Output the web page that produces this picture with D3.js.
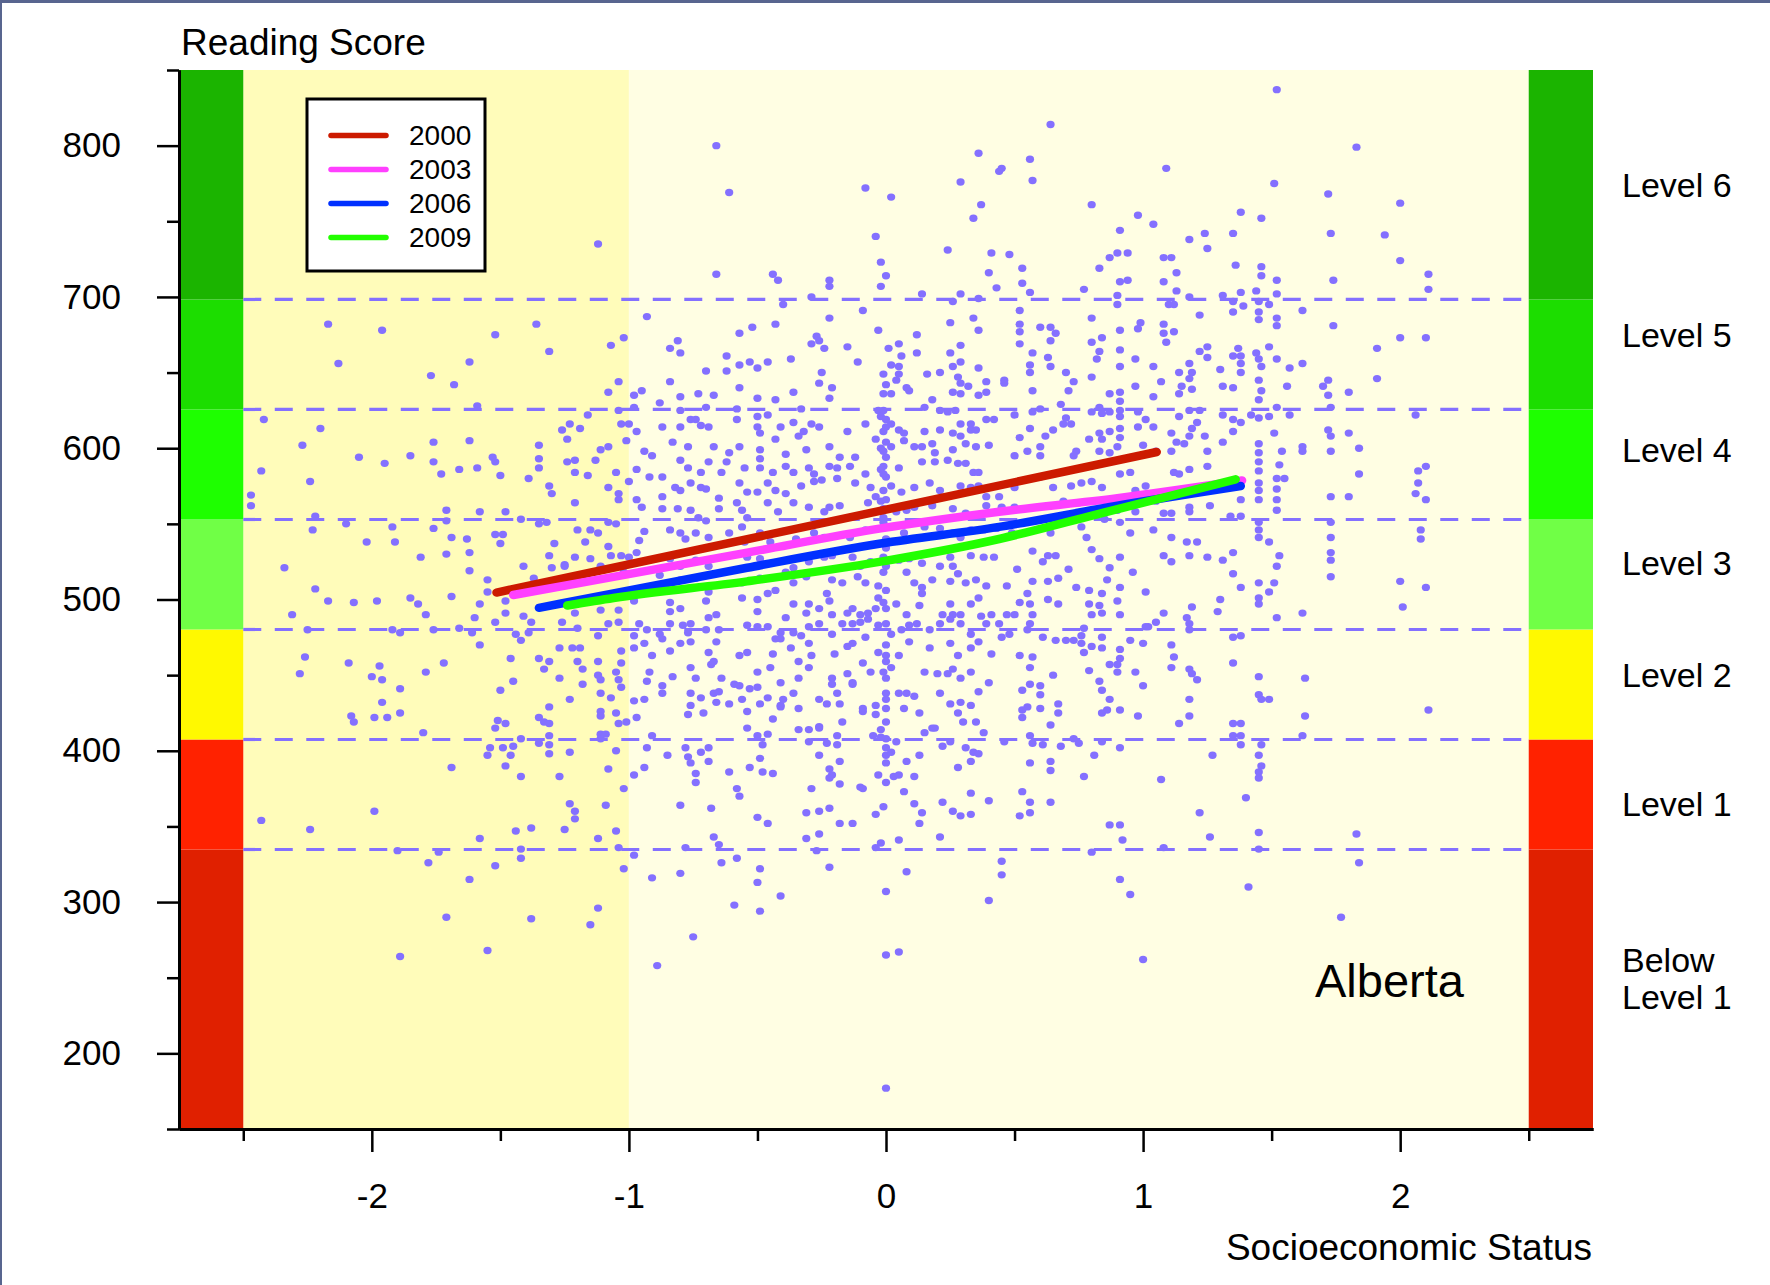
<!DOCTYPE html>
<html>
<head>
<meta charset="utf-8">
<script src="https://cdn.jsdelivr.net/npm/d3@7"></script>
<style>
  html, body { margin: 0; padding: 0; background: #fff; }
  svg { display: block; font-family: "Liberation Sans", Arial, Helvetica, sans-serif; }
</style>
</head>
<body>
<svg id="chart" width="1770" height="1285"></svg>
<script>
// PISA reading proficiency cut scores and band labels
const levelCuts = [150, 334.75, 407.47, 480.18, 552.89, 625.61, 698.32, 850];
const levelNames = [["Below", "Level 1"], ["Level 1"], ["Level 2"], ["Level 3"], ["Level 4"], ["Level 5"], ["Level 6"]];
const levelLabelScores = [[262, 237], [365], [450], [524], [599], [675], [774]];

const yMajorTicks = [200, 300, 400, 500, 600, 700, 800];
const yMinorTicks = [150, 250, 350, 450, 550, 650, 750, 850];
const xMajorTicks = [-2, -1, 0, 1, 2];
const xMinorTicks = [-2.5, -1.5, -0.5, 0.5, 1.5, 2.5];

// regression lines, [SES, score]
const trendYears = ["2000", "2003", "2006", "2009"];
const trend2000 = [[-1.515, 504.6], [1.053, 597.5]];
const trend2003 = [[-1.45, 503], [-1.06, 515], [-0.54, 531], [-0.02, 547], [0.44, 558], [0.90, 567], [1.385, 578.7]];
const trend2006 = [[-1.35, 494.5], [-1.06, 504], [-0.54, 521], [-0.02, 537], [0.44, 548], [0.90, 562], [1.38, 575]];
const trend2009 = [[-1.24, 496], [-1.06, 501], [-0.54, 512], [-0.02, 525], [0.44, 540], [0.79, 555], [1.36, 579.4]];

// students, [SES, reading score]
const studentsLowSes = [
[-1.12,735],[-2.17,682],[-1.96,678],[-2.13,656],[-1.52,675],[-1.36,682],[-1.31,664],[-1.77,648],[-1.62,657],[-1.68,642],[-1.07,668],[-1.02,673],[-0.93,687],[-1.08,637],[-1.04,644],[-0.98,635],[-0.95,638],[-1.04,625],[-0.98,627],[-1.59,628],[-2.42,619],[-2.20,613],[-2.27,602],[-2.43,585],[-2.24,578],[-2.47,569],[-2.47,562],[-2.05,594],[-1.95,590],[-1.85,595],[-1.76,604],[-1.76,591],[-1.73,583],[-1.66,586],[-1.62,605],[-1.59,587],[-1.53,594],[-1.52,591],[-1.50,582],[-1.35,602],[-1.35,593],[-1.35,587],[-1.39,580],[-1.31,575],[-1.30,570],[-1.26,612],[-1.23,616],[-1.19,613],[-1.24,606],[-1.16,622],[-1.24,591],[-1.21,592],[-1.21,584],[-1.16,582],[-1.13,592],[-1.11,599],[-1.08,601],[-1.05,584],[-1.01,605],[-1.08,574],[-1.04,570],[-1.04,566],[-1.21,564],[-1.03,616],[-1.00,616],[-0.97,611],[-0.97,586],[-1.00,578],[-0.94,598],[-0.91,595],[-0.97,566],[-0.95,561],[-0.92,581],
[-2.22,555],[-2.23,546],[-2.10,550],[-2.02,538],[-1.92,548],[-1.91,538],[-1.76,547],[-1.71,559],[-1.69,541],[-1.71,552],[-1.63,540],[-1.62,531],[-1.71,530],[-1.81,528],[-1.58,558],[-1.52,543],[-1.49,543],[-1.50,537],[-1.48,558],[-1.42,553],[-1.35,550],[-1.32,551],[-1.29,537],[-1.31,529],[-1.25,523],[-1.21,528],[-1.20,546],[-1.17,538],[-1.15,546],[-1.12,544],[-1.08,535],[-1.07,529],[-1.03,529],[-1.08,551],[-1.05,550],[-0.97,531],[-0.94,545],[-0.96,539],
[-2.34,521],[-2.22,507],[-2.17,499],[-2.07,498],[-1.98,499],[-1.85,501],[-1.82,497],[-1.69,502],[-1.62,519],[-1.55,513],[-1.55,505],[-1.58,497],[-1.48,499],[-1.41,522],[-1.37,514],[-1.30,521],[-1.25,522],[-1.15,527],[-1.11,522],[-1.02,518],[-1.00,528],[-0.98,499],[-1.11,493],[-1.04,493],[-2.31,490],[-1.79,490],[-1.21,491],
[-1.48,491],[-1.41,489],[-1.38,485],[-1.52,485],[-1.60,488],[-2.25,480],[-1.92,480],[-1.89,478],[-1.76,480],[-1.66,481],[-1.61,478],[-1.58,470],[-1.44,477],[-1.39,478],[-1.42,473],[-2.26,462],[-2.09,458],[-1.97,456],[-2.28,451],[-2.00,449],[-1.96,447],[-1.79,452],[-1.72,458],[-1.89,441],[-1.96,432],[-1.89,425],[-2.08,423],[-2.07,419],[-1.99,422],[-1.94,422],[-1.80,412],[-1.69,389],[-1.46,461],[-1.45,446],[-1.50,440],[-1.51,420],[-1.48,418],[-1.52,415],[-1.35,461],[-1.33,454],[-1.31,459],[-1.27,448],[-1.31,429],[-1.35,422],[-1.33,419],[-1.31,418],[-1.31,410],[-1.42,408],[-1.35,405],[-1.31,404],[-1.31,398],[-1.54,402],[-1.55,397],[-1.49,402],[-1.45,403],[-1.46,397],[-1.48,390],[-1.42,383],
[-1.27,468],[-1.22,468],[-1.19,468],[-1.20,459],[-1.18,454],[-1.12,459],[-1.03,466],[-1.03,458],[-1.12,450],[-1.11,447],[-1.18,444],[-1.05,452],[-1.04,447],[-1.03,442],[-1.11,438],[-1.07,435],[-1.23,434],[-1.11,426],[-1.11,423],[-1.05,425],[-1.04,418],[-1.01,419],[-1.11,411],[-1.11,408],[-1.09,411],[-1.05,400],[-1.23,399],[-1.27,383],[-1.08,388],[-1.02,375],[-1.23,365],[-1.21,360],[-1.21,355],[-1.25,348],[-1.09,364],[-1.12,342],[-1.05,347],[-1.04,336],[-1.44,347],[-1.38,349],[-1.58,342],[-1.42,335],[-1.42,329],[-1.52,324],[-1.62,315],[-1.74,333],[-1.78,326],[-1.90,334],[-1.99,360],[-2.24,348],[-2.43,354],[-1.71,290],[-1.38,289],[-1.15,285],[-1.12,296],[-0.98,331],[-1.02,322],[-0.91,316],[-1.89,264],[-1.55,268],[-0.89,258],
[-0.98,476],[-0.94,471],[-0.98,468],[-0.93,480],[-0.96,484],[-0.91,463],[-0.92,452],[-0.93,446],[-0.98,433],[-0.94,434],[-0.97,422],[-0.91,410],[-0.93,402],[-0.94,389],[-0.98,384],[-1.20,481],[-1.12,476],[-1.08,484],[-1.04,485],[-1.26,485]
];

const studentsMidSes = [
[-0.66,800],[-0.61,769],[-0.08,772],[0.02,766],[-0.04,740],[0.36,795],[0.45,785],[0.44,783],[0.29,776],[0.37,761],[0.34,752],[0.24,731],[0.41,729],[0.48,728],[0.40,716],[0.43,706],[-0.02,723],[0.00,714],[-0.02,707],[-0.66,715],[-0.44,715],[-0.42,711],[-0.22,711],[-0.22,707],[-0.29,700],[-0.40,695],[-0.84,666],[-0.81,671],[-0.80,663],[-0.70,651],[-0.84,644],[-0.62,661],[-0.57,676],[-0.52,680],[-0.62,651],[-0.57,655],[-0.53,657],[-0.50,653],[-0.46,657],[-0.43,682],[-0.57,640],[-0.80,634],[-0.73,636],[-0.67,635],[-0.88,630],[-0.50,633],[-0.43,632],[-0.37,659],[-0.36,637],[-0.27,674],[-0.26,671],[-0.24,666],[-0.22,686],[-0.15,667],[-0.11,657],[-0.25,650],[-0.26,643],[-0.21,640],[-0.22,633],[-0.09,691],[-0.03,678],[0.01,666],[0.05,669],[0.06,661],[0.02,655],[-0.01,649],[0.05,649],[0.04,645],[0.00,642],[-0.01,636],[0.02,636],[0.09,638],[0.12,675],[0.12,663],[0.16,649],[0.14,702],[0.21,650],[0.18,632],[0.25,683],[0.25,663],[0.26,654],[0.29,702],[0.26,697],[0.29,668],[0.29,657],[0.28,647],[0.29,643],[0.32,641],[0.26,637],[0.29,636],[0.36,653],[0.34,686],[0.36,678],[0.36,699],[0.39,644],[0.36,635],[0.39,637],[0.46,645],[0.46,643],[0.15,627],[0.08,640],[0.05,654],[-0.29,669],
[-0.80,625],[-0.70,627],[-0.58,626],[-0.50,621],[-0.46,622],[-0.36,617],[-0.33,626],[-0.26,614],[-0.08,616],[-0.03,625],[-0.02,621],[0.00,614],[0.21,625],[0.24,624],[0.27,625],[0.29,616],[0.33,616],[0.50,622],
[-0.87,614],[-0.80,614],[-0.76,619],[-0.74,619],[-0.72,615],[-0.69,614],[-0.58,619],[-0.50,614],[-0.49,610],[-0.41,614],[-0.34,608],[-0.32,611],[-0.29,616],[-0.15,611],[-0.04,606],[0.02,616],[0.05,612],[0.07,610],[0.15,611],[0.21,612],[0.26,610],[0.29,608],[0.33,612],[0.35,612],[0.39,619],[0.42,619],
[-0.83,604],[-0.77,601],[-0.67,601],[-0.61,597],[-0.57,601],[-0.49,599],[-0.49,593],[-0.43,606],[-0.39,596],[-0.31,599],[-0.22,601],[-0.18,594],[-0.12,594],[-0.02,600],[0.00,594],[0.02,601],[0.07,605],[0.11,601],[0.14,601],[0.18,603],[0.19,597],[0.26,599],[0.31,603],[0.35,601],[0.40,602],[0.50,595],
[-0.87,581],[-0.80,592],[-0.77,587],[-0.72,584],[-0.69,591],[-0.64,584],[-0.62,591],[-0.55,587],[-0.49,587],[-0.44,584],[-0.39,588],[-0.36,584],[-0.30,587],[-0.28,583],[-0.22,588],[-0.19,587],[-0.14,588],[-0.08,583],[-0.02,586],[0.00,581],[0.05,587],[0.14,591],[0.19,591],[0.24,592],[0.28,590],[0.31,590],[0.34,584],[0.36,584],
[-0.87,568],[-0.82,574],[-0.80,572],[-0.76,577],[-0.72,574],[-0.70,573],[-0.65,567],[-0.57,577],[-0.54,571],[-0.50,571],[-0.46,577],[-0.43,572],[-0.39,570],[-0.33,575],[-0.28,578],[-0.25,579],[-0.19,580],[-0.12,577],[-0.06,574],[-0.04,568],[-0.01,572],[0.02,575],[0.06,571],[0.11,574],[0.17,577],[0.21,572],[0.29,575],[0.33,574],[0.36,575],[0.39,568],[0.44,568],[0.50,574],
[-0.87,560],[-0.81,560],[-0.76,559],[-0.73,554],[-0.70,552],[-0.65,560],[-0.58,564],[-0.56,559],[-0.54,554],[-0.46,564],[-0.42,558],[-0.36,564],[-0.30,561],[-0.24,558],[-0.22,561],[-0.18,562],[-0.07,564],[-0.02,565],[-0.01,560],[0.04,558],[0.08,559],[0.11,561],[0.18,562],[0.26,560],[0.31,557],[0.39,562],[0.45,561],[0.50,561],
[-0.84,546],[-0.80,544],[-0.78,540],[-0.74,544],[-0.69,541],[-0.61,544],[-0.56,548],[-0.55,538],[-0.49,544],[-0.45,538],[-0.40,545],[-0.35,540],[-0.28,544],[-0.24,541],[-0.14,541],[-0.08,546],[-0.02,547],[0.00,540],[0.07,544],[0.15,548],[0.21,547],[0.26,544],[0.29,541],[0.33,546],[0.38,546],[0.43,547],[0.49,544],
[-0.84,527],[-0.80,522],[-0.74,526],[-0.69,522],[-0.54,528],[-0.49,527],[-0.36,521],[-0.30,525],[-0.24,528],[-0.21,529],[-0.13,528],[-0.10,522],[-0.06,525],[-0.01,528],[0.00,522],[0.05,526],[0.09,527],[0.14,524],[0.21,522],[0.25,528],[0.26,522],[0.33,529],[0.38,528],[0.42,528],[0.51,520],
[-0.88,516],[-0.80,513],[-0.74,514],[-0.69,505],[-0.56,511],[-0.49,514],[-0.43,506],[-0.39,518],[-0.36,511],[-0.31,515],[-0.21,513],[-0.17,511],[-0.11,515],[-0.08,511],[-0.03,509],[0.00,506],[0.08,518],[0.11,511],[0.14,508],[0.18,513],[0.25,512],[0.28,517],[0.31,511],[0.35,513],[0.39,509],[0.47,509],
[-0.46,504],[-0.23,504],[-0.03,501],[0.14,504],
[-0.01,625],[0.00,619],[-0.01,611],[0.00,604],[-0.01,598],[-0.01,588],[-0.01,583],[0.00,566],[-0.01,554],[-0.01,551],[0.00,534],[-0.01,518],
[-0.84,498],[-0.84,492],[-0.80,494],[-0.70,499],[-0.69,488],[-0.66,490],[-0.56,501],[-0.50,500],[-0.50,492],[-0.39,488],[-0.36,497],[-0.31,491],[-0.30,497],[-0.26,494],[-0.22,499],[-0.21,490],[-0.15,491],[-0.13,494],[-0.10,490],[-0.07,491],[-0.04,494],[-0.01,498],[0.00,494],[0.04,497],[0.08,490],[0.13,496],[0.22,490],[0.25,497],[0.26,490],[0.29,490],[0.33,497],[0.36,501],[0.41,490],[0.47,490],[0.50,490],
[-0.88,477],[-0.84,484],[-0.79,483],[-0.77,478],[-0.76,484],[-0.70,480],[-0.65,480],[-0.54,483],[-0.50,482],[-0.46,482],[-0.43,474],[-0.41,478],[-0.36,478],[-0.33,476],[-0.30,482],[-0.26,484],[-0.21,477],[-0.17,484],[-0.13,484],[-0.10,485],[-0.07,487],[-0.03,483],[0.00,484],[0.02,477],[0.06,480],[0.09,483],[0.12,484],[0.17,480],[0.21,484],[0.25,487],[0.29,484],[0.33,477],[0.37,489],[0.39,484],[0.44,484],[0.48,477],
[-0.87,474],[-0.84,466],[-0.80,471],[-0.76,472],[-0.69,465],[-0.66,472],[-0.57,463],[-0.54,465],[-0.44,464],[-0.41,474],[-0.37,468],[-0.30,471],[-0.29,463],[-0.20,464],[-0.15,469],[-0.13,471],[-0.08,475],[-0.03,465],[0.00,470],[0.00,463],[0.05,463],[0.09,472],[0.17,468],[0.25,471],[0.28,463],[0.33,468],[0.36,472],[0.41,464],[0.45,475],
[-0.83,449],[-0.76,455],[-0.74,448],[-0.68,457],[-0.67,459],[-0.64,448],[-0.59,444],[-0.50,452],[-0.45,455],[-0.41,445],[-0.34,459],[-0.34,448],[-0.30,455],[-0.21,448],[-0.15,451],[-0.13,445],[-0.09,458],[-0.06,452],[-0.01,452],[0.00,459],[0.00,448],[0.02,455],[0.15,452],[0.20,451],[0.24,451],[0.26,454],[0.29,448],[0.33,452],[0.40,445],
[-0.87,438],[-0.87,443],[-0.76,438],[-0.76,430],[-0.72,435],[-0.67,438],[-0.66,432],[-0.65,439],[-0.61,431],[-0.57,443],[-0.56,434],[-0.53,441],[-0.50,442],[-0.49,431],[-0.46,435],[-0.41,430],[-0.40,434],[-0.36,438],[-0.26,434],[-0.23,431],[-0.21,444],[-0.19,438],[-0.18,431],[-0.13,444],[-0.09,428],[-0.04,430],[0.00,438],[0.00,434],[0.05,438],[0.08,438],[0.11,436],[0.21,438],[0.25,431],[0.29,432],[0.33,430],[0.36,439],
[-0.77,424],[-0.71,425],[-0.54,426],[-0.44,421],[-0.41,429],[-0.34,428],[-0.26,416],[-0.17,419],[-0.09,426],[-0.04,424],[0.00,428],[0.00,419],[0.07,428],[0.13,425],[0.18,415],[0.28,425],[0.30,419],[0.35,419],
[-0.78,402],[-0.72,399],[-0.69,402],[-0.54,415],[-0.50,410],[-0.46,411],[-0.48,404],[-0.34,414],[-0.30,414],[-0.30,406],[-0.26,415],[-0.23,405],[-0.19,410],[-0.19,404],[-0.05,410],[-0.02,414],[-0.02,409],[0.00,408],[0.00,402],[0.04,406],[0.15,412],[0.19,415],[0.22,403],[0.25,406],[0.31,402],[0.34,399],[0.38,412],[0.46,406],
[-0.85,397],[-0.77,396],[-0.76,392],[-0.74,385],[-0.69,393],[-0.61,386],[-0.53,389],[-0.49,395],[-0.48,386],[-0.44,385],[-0.26,397],[-0.22,388],[-0.21,384],[-0.18,393],[-0.03,384],[0.00,397],[0.00,392],[0.02,399],[0.08,393],[0.11,383],[0.13,397],[0.28,389],[0.33,393],[0.36,398],
[-0.74,379],[-0.80,364],[-0.58,375],[-0.57,370],[-0.31,359],[-0.29,375],[-0.26,360],[-0.22,362],[-0.22,382],[-0.18,378],[-0.10,376],[-0.09,375],[-0.04,358],[-0.01,363],[0.00,379],[0.03,383],[0.05,384],[0.07,373],[0.11,365],[0.14,359],[0.22,366],[0.26,360],[0.29,357],[0.33,358],[0.33,372],[0.40,367],
[-0.68,362],[-0.50,356],[-0.46,352],[-0.18,352],[-0.13,352],[0.13,352],[-0.67,343],[-0.65,338],[-0.31,342],[-0.26,345],[-0.02,339],[0.05,341],[0.21,343],[-0.27,334],[-0.78,336],[-0.04,336],
[-0.80,319],[-0.64,326],[-0.58,329],[-0.49,322],[-0.50,313],[-0.41,304],[-0.59,298],[-0.49,294],[-0.22,323],[0.00,307],[0.08,320],[0.45,327],[0.45,318],[0.40,301],
[-0.75,277],[0.00,265],[0.05,267],[0.00,177]
];

const studentsHighSes = [
[1.52,837],[0.64,814],[0.56,791],[0.57,777],[1.09,785],[1.51,775],[1.83,799],[0.80,761],[0.98,754],[1.04,748],[0.91,744],[1.72,768],[2.00,762],[1.94,741],[1.73,742],[1.38,756],[1.46,752],[1.24,742],[1.18,738],[1.25,732],[1.35,742],[0.87,726],[0.90,729],[0.94,729],[0.83,719],[1.08,726],[1.11,726],[1.13,716],[1.36,721],[1.46,720],[1.46,714],[2.00,724],[2.11,715],[0.53,719],[0.53,709],[0.91,710],[0.94,711],[1.08,710],[1.74,711],[0.77,705],[0.56,703],[0.90,701],[0.90,695],[1.13,704],[1.18,700],[1.10,695],[1.12,695],[1.31,701],[1.35,697],[1.38,703],[1.39,694],[1.35,690],[1.44,704],[1.45,697],[1.49,695],[1.52,711],[1.52,702],[1.62,691],[2.11,705],[0.80,686],[1.22,688],[1.45,690],[1.45,685],[1.52,686],[1.52,681],[0.52,691],[0.52,682],[0.52,677],[0.60,680],[0.64,680],[0.64,671],[0.66,676],[0.57,663],[0.63,660],[0.64,654],[0.56,655],[0.56,650],[0.70,650],[0.73,644],[0.71,638],[0.57,638],[0.80,670],[0.84,673],[0.83,664],[0.82,659],[0.80,647],[0.91,678],[0.91,665],[0.91,654],[0.97,659],[0.99,683],[0.98,679],[0.97,641],[0.87,636],[0.91,637],[0.91,631],[1.04,634],[1.04,654],[1.07,644],[1.08,682],[1.12,677],[1.09,670],[1.08,676],[1.14,650],[1.18,656],[1.19,650],[1.18,646],[1.15,641],[1.14,636],[1.19,639],[1.22,664],[1.25,667],[1.25,660],[1.30,652],[1.31,641],[1.35,640],[1.35,661],[1.38,656],[1.38,650],[1.38,661],[1.37,666],[1.44,663],[1.45,659],[1.46,654],[1.45,645],[1.46,638],[1.45,632],[1.49,667],[1.52,659],[1.57,653],[1.56,641],[1.62,656],[1.72,645],[1.70,641],[1.72,635],[1.80,637],[1.91,666],[1.91,646],[2.00,673],[2.10,673],[1.74,681],[0.52,669],
[0.57,624],[0.60,626],[0.68,629],[0.70,620],[0.72,616],[0.80,624],[0.84,623],[0.83,627],[0.87,624],[0.91,621],[0.91,625],[0.98,624],[1.01,619],[1.04,614],[0.98,614],[0.91,613],[0.87,611],[0.83,610],[0.79,606],[0.84,606],[0.91,607],[0.90,601],[0.87,597],[0.83,598],[0.74,598],[0.73,595],[0.60,601],[0.60,595],[0.56,613],[0.52,607],[0.55,598],[0.62,608],[0.65,612],[0.69,616],[1.11,610],[1.18,608],[1.19,613],[1.21,617],[1.16,603],[1.13,604],[1.14,621],[1.18,625],[1.22,625],[1.24,608],[1.31,604],[1.25,598],[1.25,588],[1.11,598],[1.00,602],[1.05,598],[1.31,622],[1.35,619],[1.38,617],[1.35,611],[1.42,622],[1.45,620],[1.49,621],[1.52,627],[1.57,622],[1.51,610],[1.45,603],[1.45,597],[1.45,591],[1.45,585],[1.54,598],[1.53,589],[1.62,601],[1.62,598],[1.73,627],[1.72,612],[1.73,608],[1.73,598],[1.80,610],[1.84,600],[2.06,622],[2.10,588],[2.07,585],[2.07,577],[2.06,570],[2.10,566],[1.84,583],[1.73,568],[1.80,568],[1.52,580],[1.55,580],[1.52,573],[1.52,566],[1.52,559],[1.45,577],[1.45,572],[1.45,566],[1.38,566],[1.38,555],[1.34,555],[1.26,562],[1.18,561],[1.18,558],[1.11,557],[1.08,557],[1.04,546],[1.11,541],[1.17,538],[1.21,538],[1.18,529],[1.08,529],[1.11,525],[1.25,528],[1.31,526],[1.35,531],[1.35,517],[1.38,508],[1.45,511],[1.45,501],[1.49,505],[1.53,529],[1.52,522],[1.51,511],[1.45,551],[1.45,546],[1.45,541],[1.49,538],[1.73,551],[1.73,541],[1.73,531],[1.73,526],[1.73,515],[2.08,546],[2.08,540],[2.00,512],[2.10,508],[1.30,500],[1.01,505],[0.96,518],[0.87,521],[0.91,528],[0.83,527],[0.78,541],[0.80,533],[0.76,548],[0.85,553],[0.91,551],[0.95,544],[0.86,513],[0.91,508],[0.79,506],[0.84,504],[0.74,508],[0.63,512],[0.67,514],[0.57,512],[0.55,504],[0.63,529],[0.57,532],[0.61,525],[0.66,529],[0.71,520],[0.64,544],[0.72,575],[0.65,574],[0.60,581],[0.76,577],[0.80,578],[0.84,574],[0.91,583],[0.95,584],[0.97,572],[1.01,575],[1.05,565],[0.90,559],[0.97,558],[0.75,564],[0.69,565],[1.12,584],[1.14,583],[1.18,586],
[0.52,498],[0.56,497],[0.63,500],[0.67,497],[0.79,497],[0.83,496],[0.90,499],[0.91,490],[0.80,490],[0.84,491],[0.57,490],[0.55,480],[0.56,484],[0.61,475],[0.52,463],[0.57,462],[0.56,455],[0.65,450],[0.56,444],[0.60,443],[0.53,440],[0.60,437],[0.55,429],[0.53,427],[0.60,428],[0.53,422],[0.67,431],[0.67,425],[0.64,417],[0.56,410],[0.57,405],[0.61,404],[0.68,403],[0.56,392],[0.64,393],[0.64,387],[0.53,373],[0.56,366],[0.64,366],[0.56,359],[0.52,357],[0.66,473],[0.70,473],[0.73,473],[0.76,476],[0.77,481],[0.76,471],[0.80,469],[0.84,475],[0.84,468],[0.77,465],[0.91,467],[0.95,473],[1.00,471],[1.02,482],[1.05,485],[0.91,461],[0.90,457],[0.87,457],[0.90,452],[0.79,453],[0.83,446],[0.84,440],[0.87,434],[0.97,452],[1.00,443],[0.91,427],[0.84,425],[0.86,427],[0.98,423],[0.75,405],[0.84,406],[0.91,402],[0.81,397],[0.77,383],[1.11,470],[1.12,462],[1.11,455],[1.17,488],[1.18,484],[1.18,480],[1.19,495],[1.18,454],[1.19,451],[1.21,447],[1.18,434],[1.18,423],[1.14,418],[1.29,492],[1.35,475],[1.38,476],[1.35,458],[1.45,497],[1.52,488],[1.62,491],[1.45,449],[1.45,437],[1.46,434],[1.49,434],[1.35,418],[1.38,418],[1.35,410],[1.38,410],[1.38,404],[1.46,404],[1.45,397],[1.46,390],[1.45,386],[1.45,382],[1.27,397],[1.07,381],[1.40,369],[1.22,359],[1.26,343],[1.45,346],[1.45,335],[1.63,448],[1.63,423],[1.62,410],[2.01,495],[2.11,427],[0.87,351],[0.91,351],[0.92,341],[1.08,336],[0.80,333],[0.91,315],[0.95,305],[1.41,310],[1.83,345],[1.84,326],[1.77,290],[1.00,262],[1.08,491],[1.01,482],[0.73,408]
];

const students = studentsLowSes.concat(studentsMidSes, studentsHighSes);
const trends = [trend2000, trend2003, trend2006, trend2009];

// ---- drawing ----
const W = 1770, H = 1285;
const plot = {left: 179, right: 1593, top: 70, bottom: 1129};
const x = d3.scaleLinear().domain([-2.75, 2.75]).range([plot.left, plot.right]);
const y = d3.scaleLinear().domain([150, 850]).range([plot.bottom, plot.top]);

const bandColors = ["#E02000", "#FF2200", "#FFF900", "#70FF46", "#1EFF00", "#1CDD00", "#1BB400"];
const trendColors = ["#CC1A00", "#FF40FF", "#0030FF", "#22FF00"];
const dotColor = "#8470FF";

const svg = d3.select("#chart");

svg.append("rect").attr("width", W).attr("height", H).attr("fill", "#fff");
// screenshot frame
svg.append("rect").attr("x", 0).attr("y", 0).attr("width", W).attr("height", 3).attr("fill", "#58658F");
svg.append("rect").attr("x", 0).attr("y", 0).attr("width", 2).attr("height", H).attr("fill", "#58658F");

// background shading
svg.append("rect")
    .attr("x", x(-2.5)).attr("y", y(850))
    .attr("width", x(-1) - x(-2.5)).attr("height", y(150) - y(850))
    .attr("fill", "#FFFCBA");
svg.append("rect")
    .attr("x", x(-1)).attr("y", y(850))
    .attr("width", x(2.5) - x(-1)).attr("height", y(150) - y(850))
    .attr("fill", "#FFFEE3");

// proficiency colour bars on both sides
const bands = d3.pairs(levelCuts);
[[-2.75, -2.5], [2.5, 2.75]].forEach(([a, b]) => {
    svg.append("g").selectAll("rect")
        .data(bands)
        .join("rect")
        .attr("x", x(a))
        .attr("width", x(b) - x(a))
        .attr("y", d => y(d[1]))
        .attr("height", d => y(d[0]) - y(d[1]))
        .attr("fill", (d, i) => bandColors[i]);
});

// students
svg.append("g").selectAll("ellipse")
    .data(students)
    .join("ellipse")
    .attr("cx", d => x(d[0]))
    .attr("cy", d => y(d[1]))
    .attr("rx", 4.1)
    .attr("ry", 3.7)
    .attr("fill", dotColor);

// level cut lines
svg.append("g").selectAll("line")
    .data(levelCuts.slice(1, -1))
    .join("line")
    .attr("x1", x(-2.5)).attr("x2", x(2.5))
    .attr("y1", d => y(d)).attr("y2", d => y(d))
    .attr("stroke", dotColor)
    .attr("stroke-width", 3.2)
    .attr("stroke-dasharray", "18 13.5");

// regression lines
const trendLine = d3.line()
    .x(d => x(d[0]))
    .y(d => y(d[1]))
    .curve(d3.curveMonotoneX);
svg.append("g").selectAll("path")
    .data(trends)
    .join("path")
    .attr("d", trendLine)
    .attr("fill", "none")
    .attr("stroke", (d, i) => trendColors[i])
    .attr("stroke-width", 8.5)
    .attr("stroke-linecap", "round");

// axes
function styleAxis(g, size) {
    g.attr("font-family", null).attr("font-size", size);
    g.selectAll("path.domain").attr("stroke", "#000").attr("stroke-width", 3);
    g.selectAll(".tick line").attr("stroke", "#000").attr("stroke-width", 2.5);
    g.selectAll(".tick text").attr("fill", "#000");
}

svg.append("g")
    .attr("transform", `translate(${plot.left},0)`)
    .call(d3.axisLeft(y).tickValues(yMinorTicks).tickSize(12).tickSizeOuter(0).tickFormat(""))
    .call(g => styleAxis(g, 35));
svg.append("g")
    .attr("transform", `translate(${plot.left},0)`)
    .call(d3.axisLeft(y).tickValues(yMajorTicks).tickSize(22).tickSizeOuter(0).tickPadding(36).tickFormat(d => String(d)))
    .call(g => styleAxis(g, 35));

svg.append("g")
    .attr("transform", `translate(0,${plot.bottom})`)
    .call(d3.axisBottom(x).tickValues(xMinorTicks).tickSize(12).tickSizeOuter(0).tickFormat(""))
    .call(g => styleAxis(g, 35));
svg.append("g")
    .attr("transform", `translate(0,${plot.bottom})`)
    .call(d3.axisBottom(x).tickValues(xMajorTicks).tickSize(23).tickSizeOuter(0).tickPadding(31).tickFormat(d => String(d)))
    .call(g => styleAxis(g, 35));

// titles
svg.append("text")
    .attr("x", 181).attr("y", 55)
    .attr("font-size", 37)
    .text("Reading Score");
svg.append("text")
    .attr("x", 1592).attr("y", 1260)
    .attr("text-anchor", "end")
    .attr("font-size", 37)
    .text("Socioeconomic Status");
svg.append("text")
    .attr("x", 1315).attr("y", 997)
    .attr("font-size", 47)
    .text("Alberta");

// level labels on the right
const levelLabels = svg.append("g").attr("font-size", 34);
levelNames.forEach((lines, i) => {
    lines.forEach((txt, j) => {
        levelLabels.append("text")
            .attr("x", 1622)
            .attr("y", y(levelLabelScores[i][j]))
            .attr("dominant-baseline", "central")
            .text(txt);
    });
});

// legend
const legend = svg.append("g").attr("transform", "translate(307,99)");
legend.append("rect")
    .attr("width", 178).attr("height", 172)
    .attr("fill", "#fff").attr("stroke", "#000").attr("stroke-width", 3);
const item = legend.selectAll("g.item")
    .data(trendYears)
    .join("g")
    .attr("class", "item")
    .attr("transform", (d, i) => `translate(0,${36.5 + i * 34})`);
item.append("line")
    .attr("x1", 24).attr("x2", 79)
    .attr("stroke", (d, i) => trendColors[i])
    .attr("stroke-width", 5.5)
    .attr("stroke-linecap", "round");
item.append("text")
    .attr("x", 102)
    .attr("dominant-baseline", "central")
    .attr("font-size", 28)
    .text(d => d);
</script>
</body>
</html>
